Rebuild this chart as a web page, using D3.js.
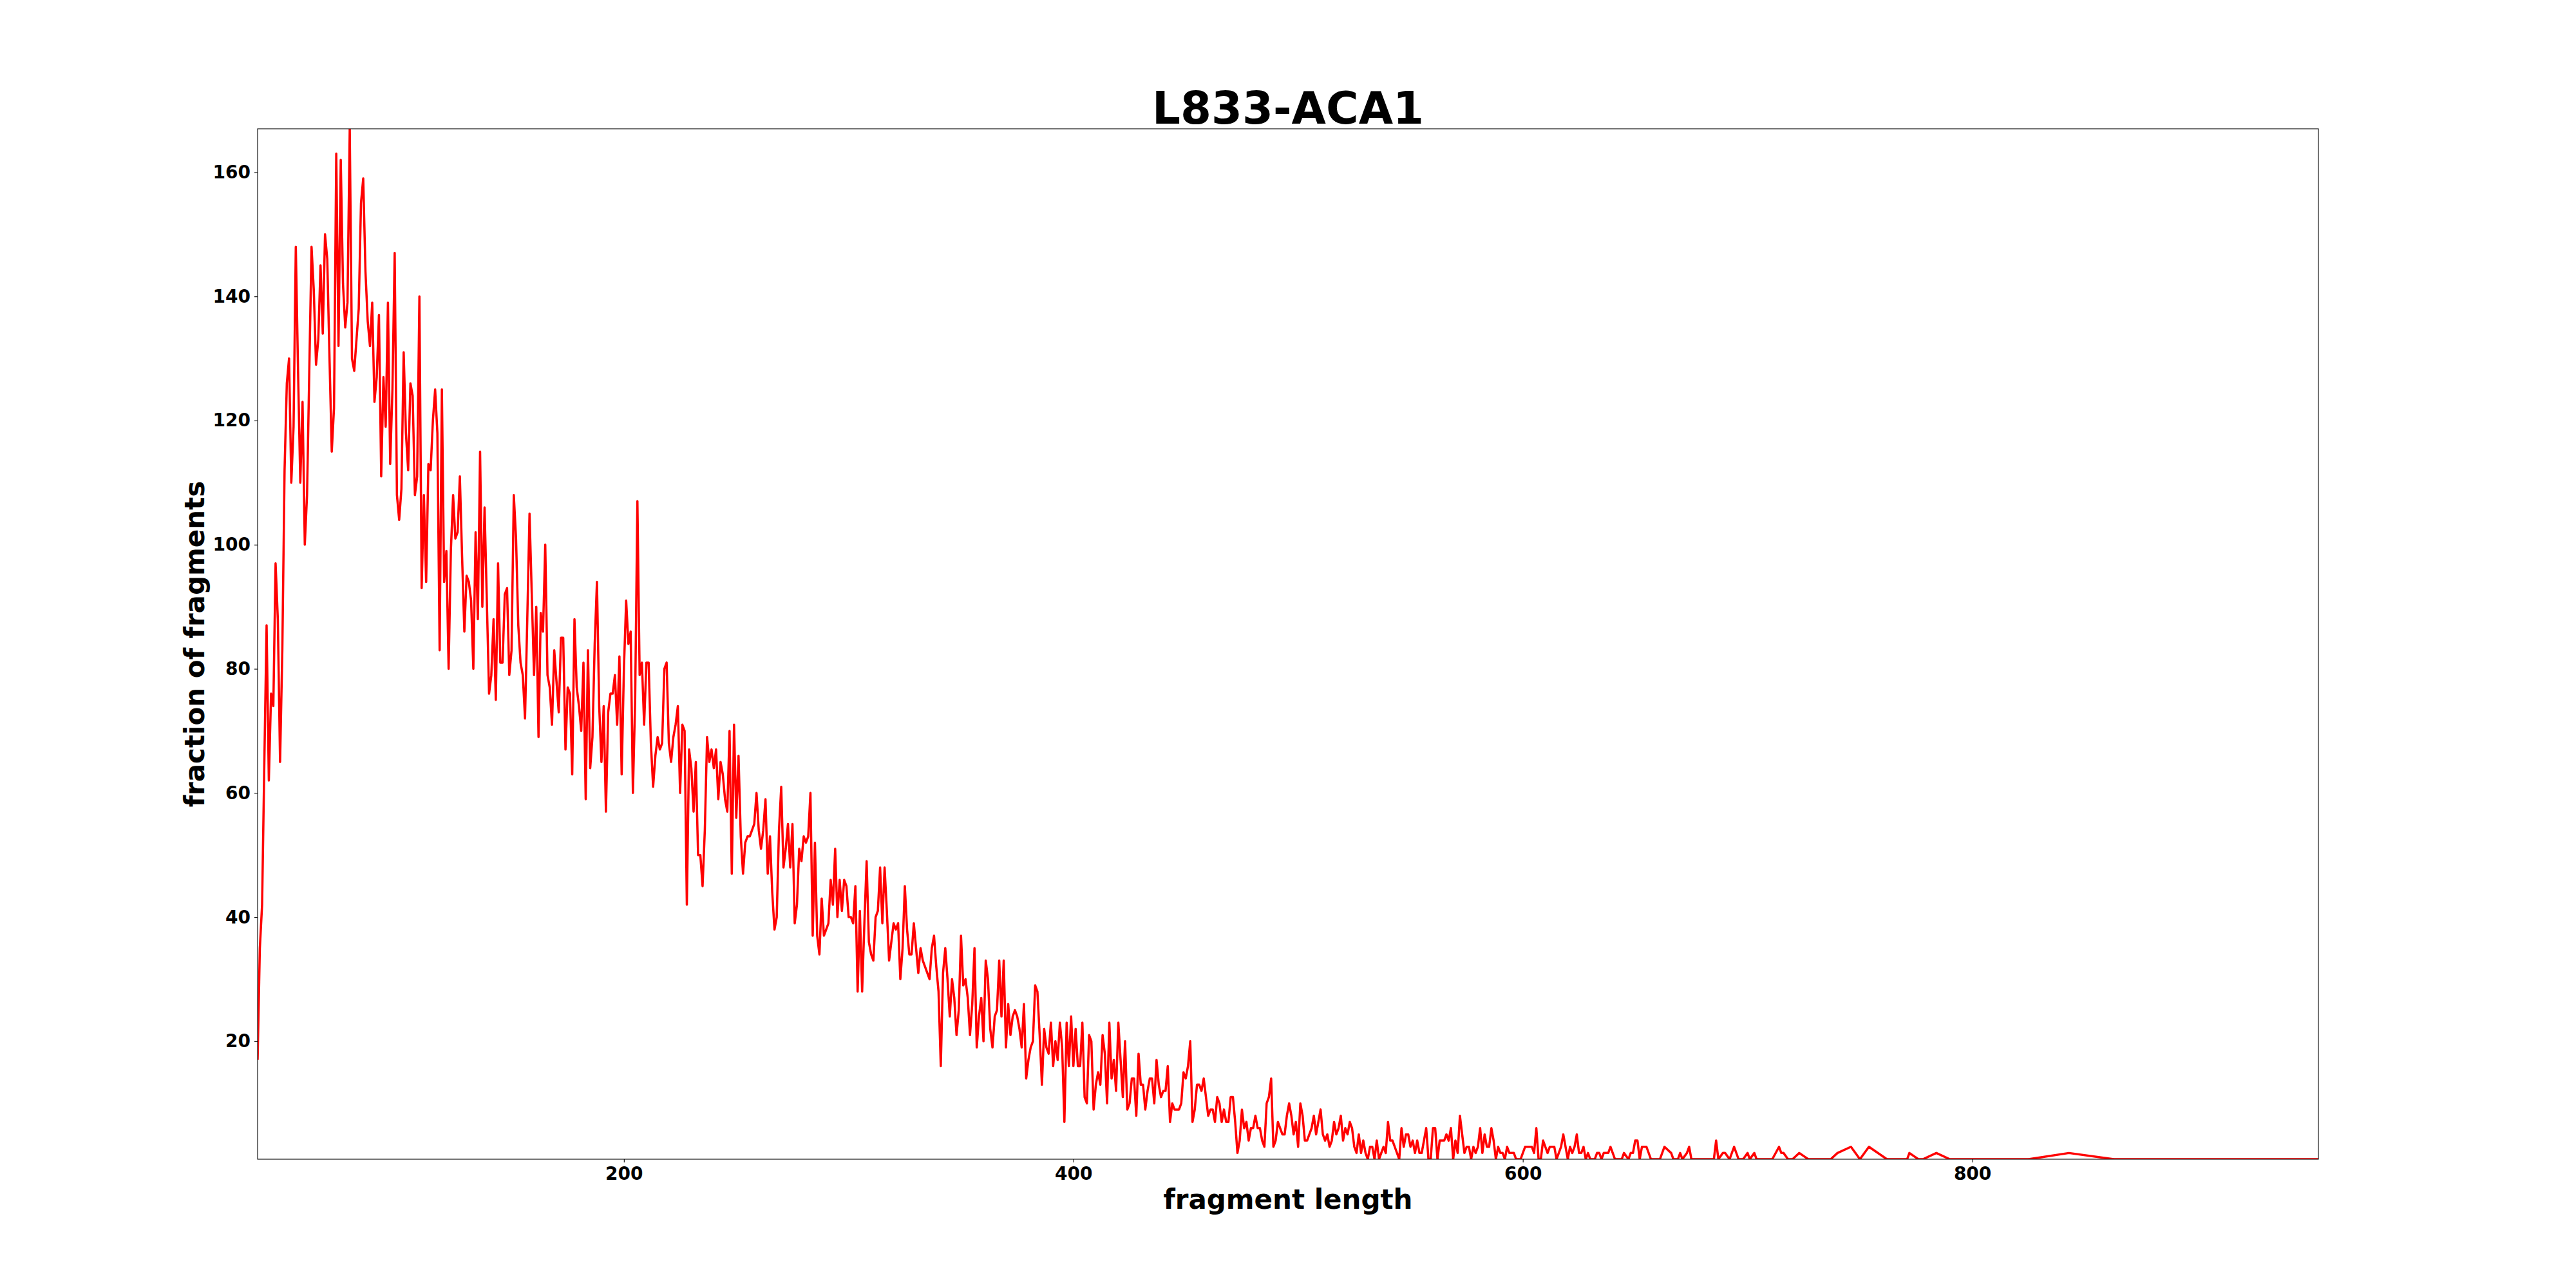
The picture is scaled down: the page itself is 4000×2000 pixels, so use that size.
<!DOCTYPE html>
<html>
<head>
<meta charset="utf-8">
<script src="https://cdn.jsdelivr.net/npm/d3@7/dist/d3.min.js"></script>
<style>
  body { margin: 0; background: #fff; }
  text { font-family: "DejaVu Sans", sans-serif; font-weight: bold; }
</style>
</head>
<body>
<div id="chart"></div>
<script>
// fragment length histogram for L833-ACA1, counts

// dense part: one count per length, starting at 37
const firstLength = 37;
const denseCounts = [
  17, 35, 42, 65, 87, 62, 76, 74, 97, 88, 65, 83, 112, 126, 130, 110, 119, 148,            // 37-54
  128, 110, 123, 100, 108, 128, 148, 141, 129, 133, 145, 134, 150, 146, 130, 115, 122, 163, 132, 162, // 55-74
  142, 135, 139, 167, 130, 128, 133, 138, 155, 159, 144, 136, 132, 139, 123, 127, 137, 111, 127, 119, // 75-94
  139, 113, 125, 147, 108, 104, 109, 131, 118, 112, 126, 124, 108, 111, 140, 93, 108, 94, 113, 112,   // 95-114
  120, 125, 118, 83, 125, 94, 99, 80, 99, 108, 101, 102, 111, 98, 86, 95, 94, 91, 80, 102,            // 115-134
  88, 115, 90, 106, 91, 76, 79, 88, 75, 97, 81, 81, 92, 93, 79, 83, 108, 101, 87, 81,                 // 135-154
  79, 72, 88, 105, 92, 79, 90, 69, 89, 86, 100, 79, 77, 71, 83, 78, 73, 85, 85, 67,                   // 155-174
  77, 76, 63, 88, 77, 74, 70, 81, 59, 83, 64, 69, 84, 94, 74, 65, 74, 57, 73, 76,                     // 175-194
  76, 79, 71, 82, 63, 80, 91, 84, 86, 60, 75, 107, 79, 81, 71, 81, 81, 68, 61, 66,                    // 195-214
  69, 67, 68, 80, 81, 68, 65, 69, 71, 74, 60, 71, 70, 42, 67, 64, 57, 65, 50, 50,                     // 215-234
  45, 54, 69, 65, 67, 64, 67, 59, 65, 63, 59, 57, 70, 47, 71, 56, 66, 53, 47, 52,                     // 235-254
  53, 53, 54, 55, 60, 54, 51, 54, 59, 47, 53, 44, 38, 40, 54, 61, 48, 51, 55, 48,                     // 255-274
  55, 39, 42, 51, 49, 53, 52, 53, 60, 37, 52, 37, 34, 43, 37, 38, 39, 46, 42, 51,                     // 275-294
  40, 46, 41, 46, 45, 40, 40, 39, 45, 28, 41, 28, 39, 49, 36, 34, 33, 40, 41, 48,                     // 295-314
  39, 48, 41, 33, 36, 39, 38, 39, 30, 35, 45, 38, 34, 34, 39, 35, 31, 35, 33, 32,                     // 315-334
  31, 30, 35, 37, 32, 28, 16, 31, 35, 30, 24, 30, 27, 21, 25, 37, 29, 30, 27, 21,                     // 335-354
  26, 35, 19, 24, 27, 20, 33, 30, 22, 19, 24, 25, 33, 24, 33, 19, 26, 21, 24, 25,                     // 355-374
  24, 22, 19, 26, 14, 17, 19, 20, 29, 28, 21, 13, 22, 19, 18, 23, 16, 20, 17, 23,                     // 375-394
  19, 7, 23, 16, 24, 16, 22, 16, 16, 23, 11, 10, 21, 20, 9, 13, 15, 13, 21, 18,                       // 395-414
  10, 23, 14, 17, 12, 23, 17, 11, 20, 9, 10, 14, 14, 8, 18, 13, 13, 9, 12, 14,                        // 415-434
  14, 10, 17, 13, 11, 12, 12, 16, 7, 10, 9, 9, 9, 10, 15, 14, 16, 20, 7, 9,                           // 435-454
  13, 13, 12, 14, 11, 8, 9, 9, 7, 11, 10, 7, 9, 7, 7, 11, 11, 7, 2, 4,                                // 455-474
  9, 6, 7, 4, 6, 6, 8, 6, 6, 4, 3, 10, 11, 14, 3, 4, 7, 6, 5, 5,                                      // 475-494
  8, 10, 8, 5, 7, 3, 10, 8, 4, 4, 5, 6, 8, 5, 7, 9, 5, 4, 5, 3,                                       // 495-514
  4, 7, 5, 6, 8, 4, 6, 5, 7, 6, 3, 2, 5, 2, 4, 2, 1, 3, 3, 1,                                         // 515-534
  4, 1, 2, 3, 2, 7, 4, 4, 3, 2, 1, 6, 3, 5, 5, 3, 4, 2, 4, 2,                                         // 535-554
  2, 4, 6, 1, 1, 6, 6, 1, 4, 4, 4, 5, 4, 6, 1, 4, 2, 8, 5, 2,                                         // 555-574
  3, 3, 1, 3, 2, 3, 6, 2, 5, 3, 3, 6, 4, 1, 3, 2, 2, 1, 3, 2,                                         // 575-594
  2, 2, 1, 1, 1, 2, 3, 3, 3, 3, 2, 6, 1, 1, 4, 3, 2, 3, 3, 3,                                         // 595-614
  1, 2, 3, 5, 3, 1, 3, 2, 3, 5, 2, 2, 3, 1, 2, 1, 1, 1, 2, 2,                                         // 615-634
  1, 2, 2, 2, 3                                                                                       // 635-639
];

// sparse tail: only the lengths that show up as corners of the line
const tailLengths = [640, 641, 644, 645, 647, 648, 649, 650, 651, 652, 653, 655, 657, 661, 663, 666, 667, 669,
  670, 671, 673, 674, 675, 685, 686, 687, 689, 690, 692, 694, 696, 698, 700, 701, 703, 704, 711, 714, 715,
  716, 718, 720, 723, 727, 737, 740, 746, 750, 754, 762, 771, 772, 776, 778, 784, 790, 825, 843, 863, 954];
const tailCounts = [2, 1, 1, 2, 1, 2, 2, 4, 4, 1, 3, 3, 1, 1, 3, 2, 1, 1,
  2, 1, 2, 3, 1, 1, 4, 1, 2, 2, 1, 3, 1, 1, 2, 1, 2, 1, 1, 3, 2,
  2, 1, 1, 2, 1, 1, 2, 3, 1, 3, 1, 1, 2, 1, 1, 2, 1, 1, 2, 1, 1];

const xTicks = [200, 400, 600, 800];
const yTicks = [20, 40, 60, 80, 100, 120, 140, 160];

const titleText = "L833-ACA1";
const xLabelText = "fragment length";
const yLabelText = "fraction of fragments";

// figure is 4000x2000, axes box 10% in from every side (like matplotlib)
const margin = { top: 200, right: 400, bottom: 200, left: 400 };
const totalWidth = 4000;
const totalHeight = 2000;
const width = totalWidth - margin.left - margin.right;
const height = totalHeight - margin.top - margin.bottom;

// merge dense and tail into one series
const points = denseCounts
  .map((c, i) => ({ len: firstLength + i, count: c }))
  .concat(tailLengths.map((l, i) => ({ len: l, count: tailCounts[i] })));

const svg = d3
  .select("#chart")
  .append("svg")
  .attr("width", totalWidth)
  .attr("height", totalHeight)
  .style("display", "block")
  .style("background", "#fff");

const g = svg.append("g").attr("transform", `translate(${margin.left},${margin.top})`);

// limits hug the data, no padding
const xScale = d3.scaleLinear().domain(d3.extent(points, (d) => d.len)).range([0, width]);
const yScale = d3.scaleLinear().domain(d3.extent(points, (d) => d.count)).range([height, 0]);

// clip so the line never spills over the frame
g.append("clipPath")
  .attr("id", "plot-clip")
  .append("rect")
  .attr("width", width)
  .attr("height", height);

const lineGen = d3
  .line()
  .x((d) => xScale(d.len))
  .y((d) => yScale(d.count));

g.append("path")
  .datum(points)
  .attr("clip-path", "url(#plot-clip)")
  .attr("fill", "none")
  .attr("stroke", "#ff0000")
  .attr("stroke-width", 3.5)
  .attr("stroke-linejoin", "round")
  .attr("d", lineGen);

// axes
g.append("g")
  .attr("class", "axis x-axis")
  .attr("transform", `translate(0,${height})`)
  .call(d3.axisBottom(xScale).tickValues(xTicks).tickSize(5).tickPadding(7).tickSizeOuter(0));

g.append("g")
  .attr("class", "axis y-axis")
  .call(d3.axisLeft(yScale).tickValues(yTicks).tickSize(5).tickPadding(6).tickSizeOuter(0));

g.selectAll(".axis .domain").remove();
g.selectAll(".axis line").attr("stroke", "#000").attr("stroke-width", 1.1);
g.selectAll(".axis text")
  .attr("fill", "#000")
  .style("font-family", '"DejaVu Sans", sans-serif')
  .style("font-weight", "bold")
  .style("font-size", "28px");

// frame around the plot
g.append("rect")
  .attr("width", width)
  .attr("height", height)
  .attr("fill", "none")
  .attr("stroke", "#000")
  .attr("stroke-width", 1.1);

// title and axis labels
svg.append("text")
  .attr("x", totalWidth / 2)
  .attr("y", 192)
  .attr("text-anchor", "middle")
  .style("font-size", "69px")
  .text(titleText);

svg.append("text")
  .attr("x", margin.left + width / 2)
  .attr("y", 1877)
  .attr("text-anchor", "middle")
  .style("font-size", "42px")
  .text(xLabelText);

svg.append("text")
  .attr("transform", `translate(317,${margin.top + height / 2}) rotate(-90)`)
  .attr("text-anchor", "middle")
  .style("font-size", "42px")
  .text(yLabelText);
</script>
</body>
</html>
